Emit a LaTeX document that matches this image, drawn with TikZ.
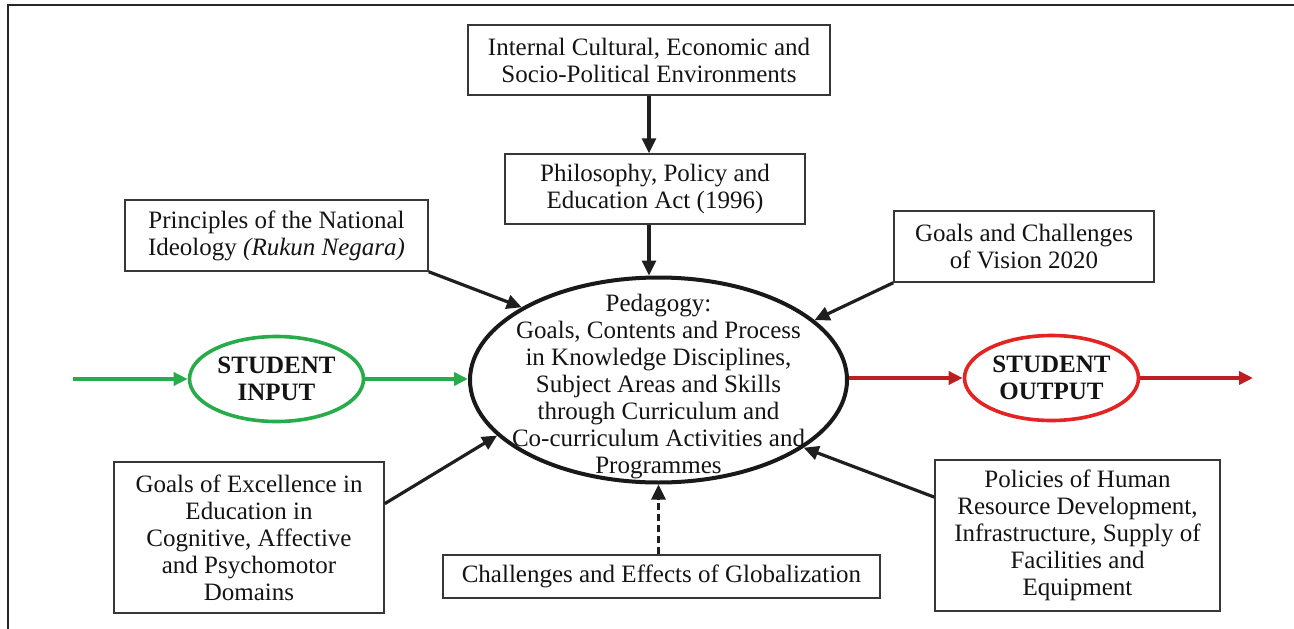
\documentclass[tikz,border=0pt]{standalone}
\usepackage{fontspec}
\setmainfont{Liberation Serif}
\usetikzlibrary{arrows.meta,shapes.geometric}
\definecolor{ingreen}{RGB}{40,172,75}
\definecolor{outred}{RGB}{228,35,35}
\definecolor{arrred}{RGB}{190,30,35}
\definecolor{txt}{RGB}{20,20,20}
\definecolor{boxgray}{RGB}{55,55,55}
\begin{document}
\begin{tikzpicture}[x=1pt,y=-1pt,
  font=\fontsize{25}{27}\selectfont, text=txt,
  box/.style={draw=boxgray, line width=1.5pt, rectangle, inner sep=0pt, align=center},
  conn/.style={line width=3.2pt, draw=black!88, -{Triangle[length=15pt,width=14pt]}},
  garr/.style={line width=3.6pt, draw=ingreen, -{Triangle[length=14pt,width=13pt]}},
  rarr/.style={line width=3.6pt, draw=arrred, -{Triangle[length=14pt,width=13pt]}},
  mainell/.style={ellipse, draw=black!90, line width=4pt, minimum width=377pt, minimum height=205pt, inner sep=0pt},
  sell/.style={ellipse, line width=3.6pt, minimum width=174pt, minimum height=85pt, inner sep=0pt, align=center, font=\fontsize{25}{27}\selectfont\bfseries},
  frame/.style={line width=2.2pt, draw=black!85}
]
\useasboundingbox (0,0) rectangle (1294,629);
% frame
\draw[frame] (1294,5) -| (8,629);

% boxes
\node[box, minimum width=362pt, minimum height=70pt] (env) at (649,60)
  {Internal Cultural, Economic and\\Socio-Political Environments};
\node[box, minimum width=300pt, minimum height=70pt] (phil) at (655,189)
  {Philosophy, Policy and\\Education Act (1996)};
\node[box, minimum width=303pt, minimum height=71pt] (prin) at (276.5,235.5)
  {Principles of the National\\Ideology \textit{(Rukun Negara)}};
\node[box, minimum width=260pt, minimum height=71pt] (vis) at (1024,246.5)
  {Goals and Challenges\\of Vision 2020};
\node[box, minimum width=270pt, minimum height=151pt] (exc) at (249,537.5)
  {Goals of Excellence in\\Education in\\Cognitive, Affective\\and Psychomotor\\Domains};
\node[box, minimum width=437pt, minimum height=43pt] (glob) at (661.5,576.5)
  {Challenges and Effects of Globalization};
\node[box, minimum width=285pt, minimum height=151pt] (pol) at (1077.5,535.5)
  {Policies of Human\\Resource Development,\\Infrastructure, Supply of\\Facilities and\\Equipment};

% central ellipse
\node[mainell] (ped) at (658.5,380) {};
\node[align=center, inner sep=0pt] (pedtxt) at (658.5,387)
  {Pedagogy:\\Goals, Contents and Process\\in Knowledge Disciplines,\\Subject Areas and Skills\\through Curriculum and\\Co-curriculum Activities and\\Programmes};

% student ellipses
\node[sell, draw=ingreen] (sin) at (276.5,379) {STUDENT\\INPUT};
\node[sell, draw=outred] (sout) at (1051.5,378) {STUDENT\\OUTPUT};
\coordinate (gstart) at (73,379);
\coordinate (rend) at (1253,378);

% connectors
\draw[conn] (env.south) -- (env.south |- phil.north);
\draw[conn] (env.south |- phil.south) -- (env.south |- ped.north);
\draw[conn] (prin.south east) -- (ped.152.4);
\draw[conn] (vis.south west) -- (ped.21.8);
\draw[conn] (exc.14) -- (ped.199.8);
\draw[conn] (pol.165) -- (ped.335.7);
\draw[conn, dash pattern=on 7pt off 4pt] (ped.south |- glob.north) -- (ped.south);

\draw[garr] (gstart) -- (sin.west);
\draw[garr] (sin.east) -- (sin.east -| ped.west);
\draw[rarr] (ped.east |- sout.west) -- (sout.west);
\draw[rarr] (sout.east) -- (rend);
\end{tikzpicture}
\end{document}
